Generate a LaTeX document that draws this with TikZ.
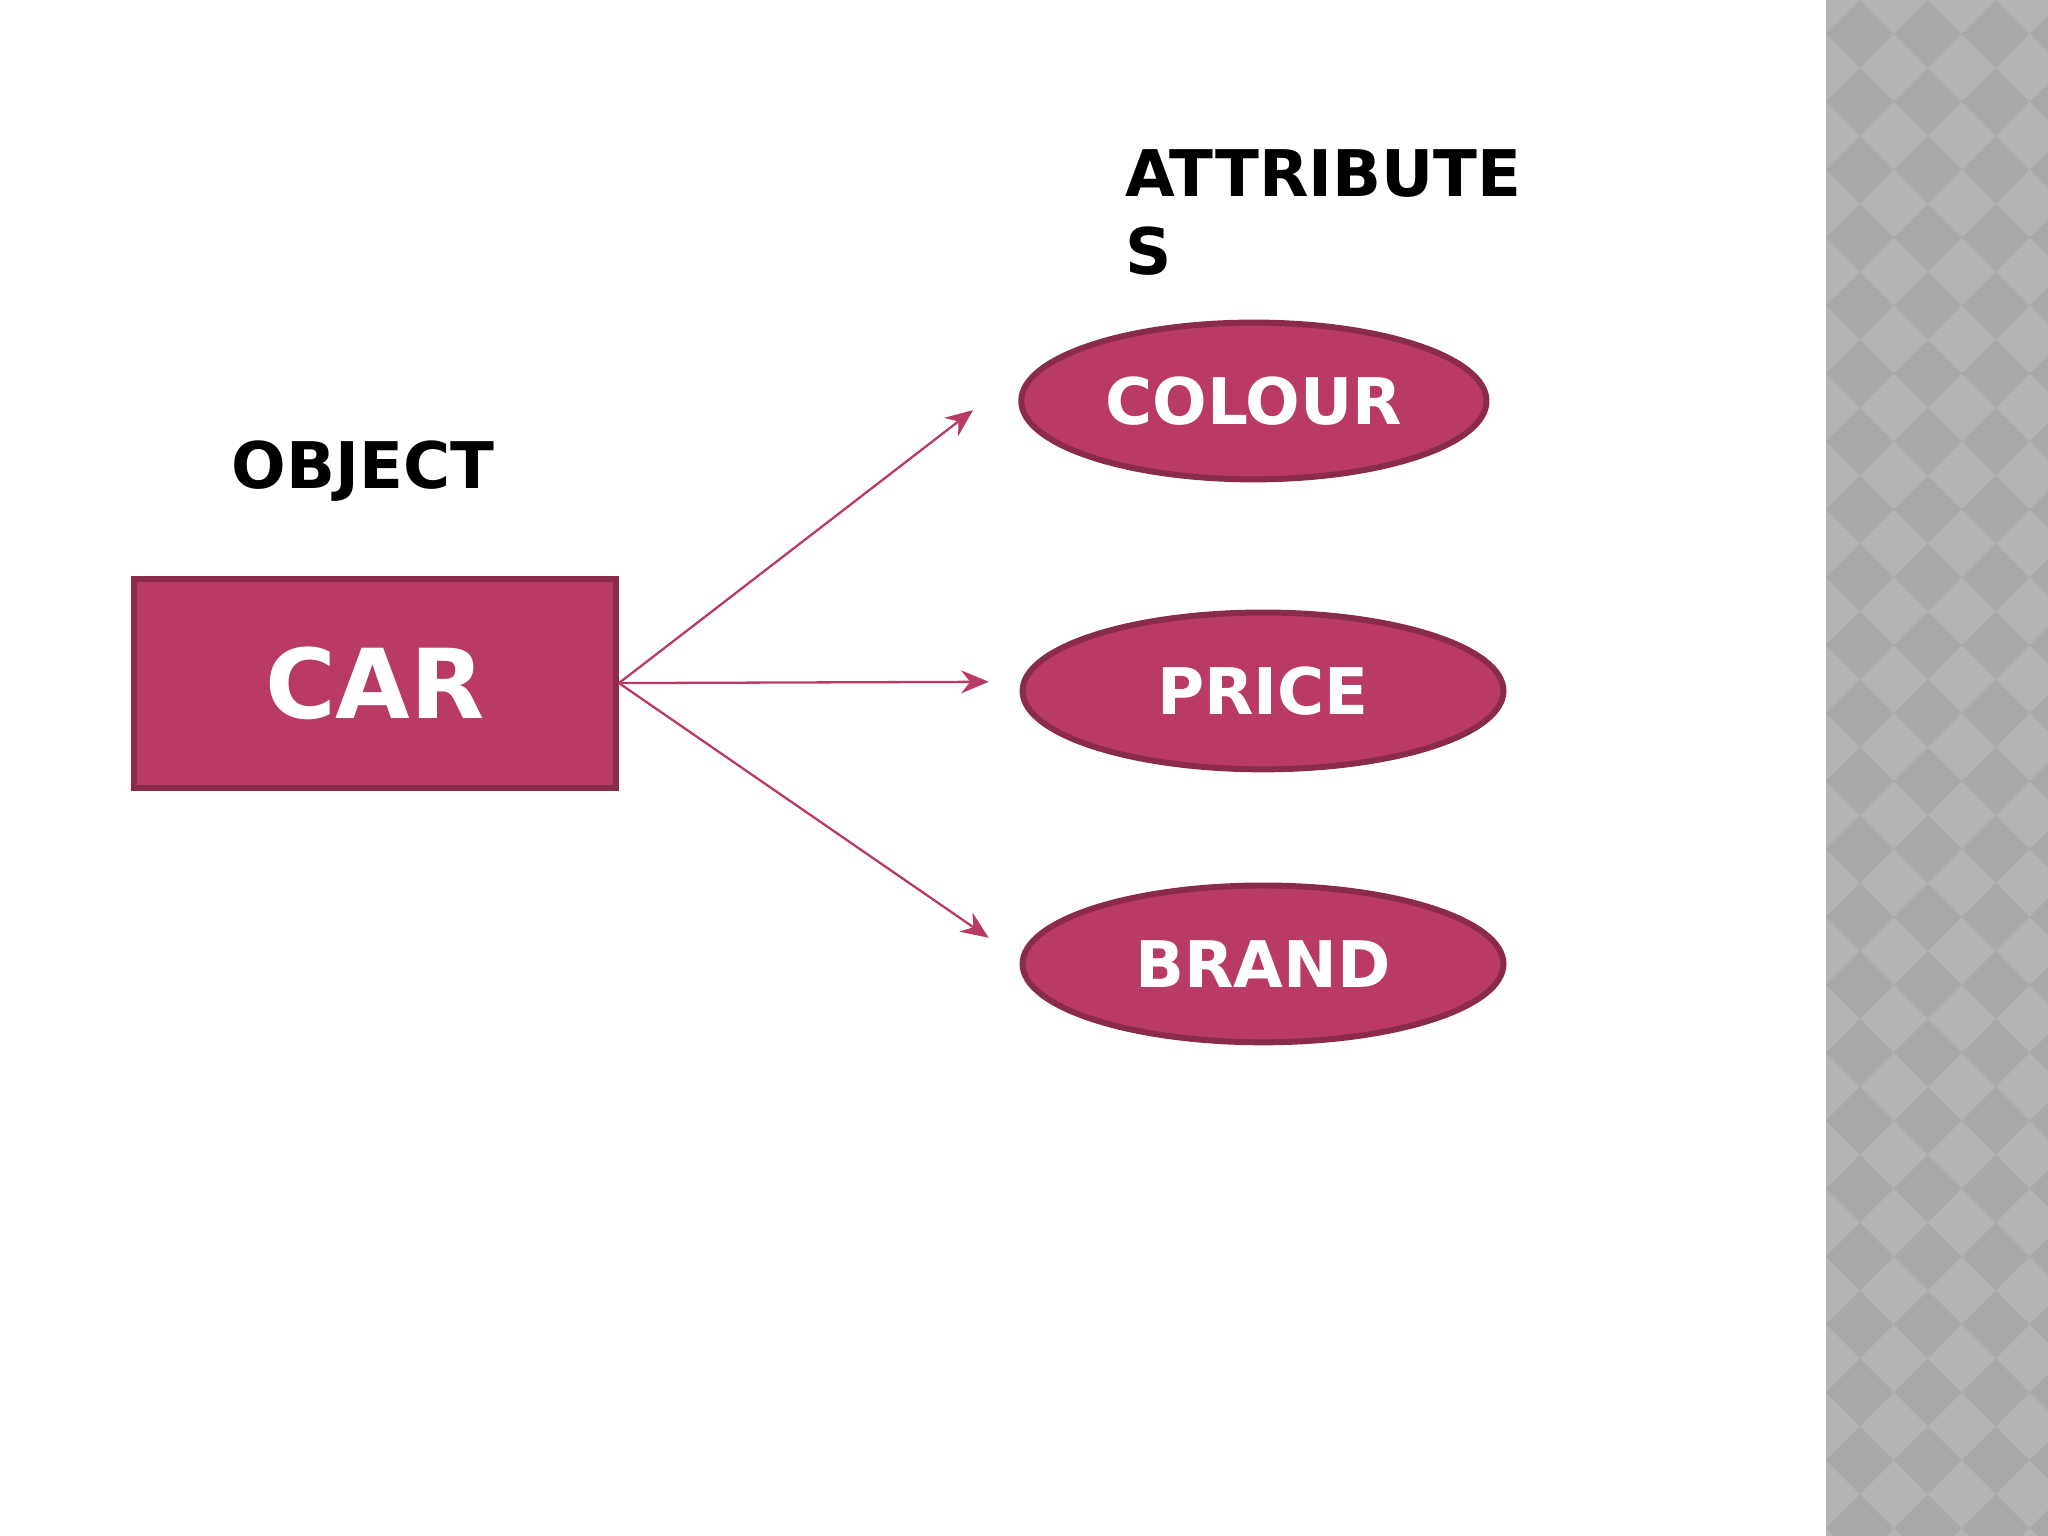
\documentclass[tikz,border=0pt]{standalone}
\usepackage{fontspec}
\setmainfont{DejaVu Sans}
\usetikzlibrary{shapes.geometric,arrows.meta}
\definecolor{fillc}{HTML}{B83A65}
\definecolor{edgec}{HTML}{8A2A4C}
\definecolor{stripc}{HTML}{B4B4B4}
\definecolor{stripd}{HTML}{A8A8A8}
\tikzset{
  attr/.style={ellipse,fill=fillc,draw=edgec,line width=1.3pt,text=white,font=\bfseries\fontsize{14}{16}\selectfont},
  conn/.style={draw=fillc,line width=0.5pt,-{Stealth[length=6pt,width=5pt]}},
  lbl/.style={font=\bfseries\fontsize{14}{17}\selectfont,text=black}
}
\begin{document}
\begin{tikzpicture}[x=0.01cm,y=-0.01cm]
\useasboundingbox (0,0) rectangle (1568,1176);
\fill[stripc] (1398,0) rectangle (1568,1176);
\begin{scope}
\clip (1398,0) rectangle (1568,1176);
\foreach \i in {0,...,4}{\foreach \j in {0,...,23}{
  \fill[stripd] ({1398+\i*52},{\j*52+26}) -- ++(26,-26) -- ++(26,26) -- ++(-26,26) -- cycle;
}}
\end{scope}
\node[draw=edgec,fill=fillc,line width=1.3pt,minimum width=369\pgflinewidth*0+3.69cm,minimum height=1.6cm,text=white,font=\bfseries\fontsize{21}{24}\selectfont] (car) at (287,523) {CAR};
\node[attr,minimum width=3.56cm,minimum height=1.2cm] (colour) at (960,307) {COLOUR};
\node[attr,minimum width=3.68cm,minimum height=1.2cm] (price) at (967,529) {PRICE};
\node[attr,minimum width=3.68cm,minimum height=1.2cm] (brand) at (967,738) {BRAND};
\coordinate (c1) at (745,314);
\coordinate (c2) at (757,522);
\coordinate (c3) at (757,718);
\draw[conn] (car.east) -- (c1);
\draw[conn] (car.east) -- (c2);
\draw[conn] (car.east) -- (c3);
\node[lbl] (obj) at (278,361) {OBJECT};
\node[lbl,anchor=north west,align=left] (attrs) at (849,102) {ATTRIBUTE\\S};
\end{tikzpicture}
\end{document}
